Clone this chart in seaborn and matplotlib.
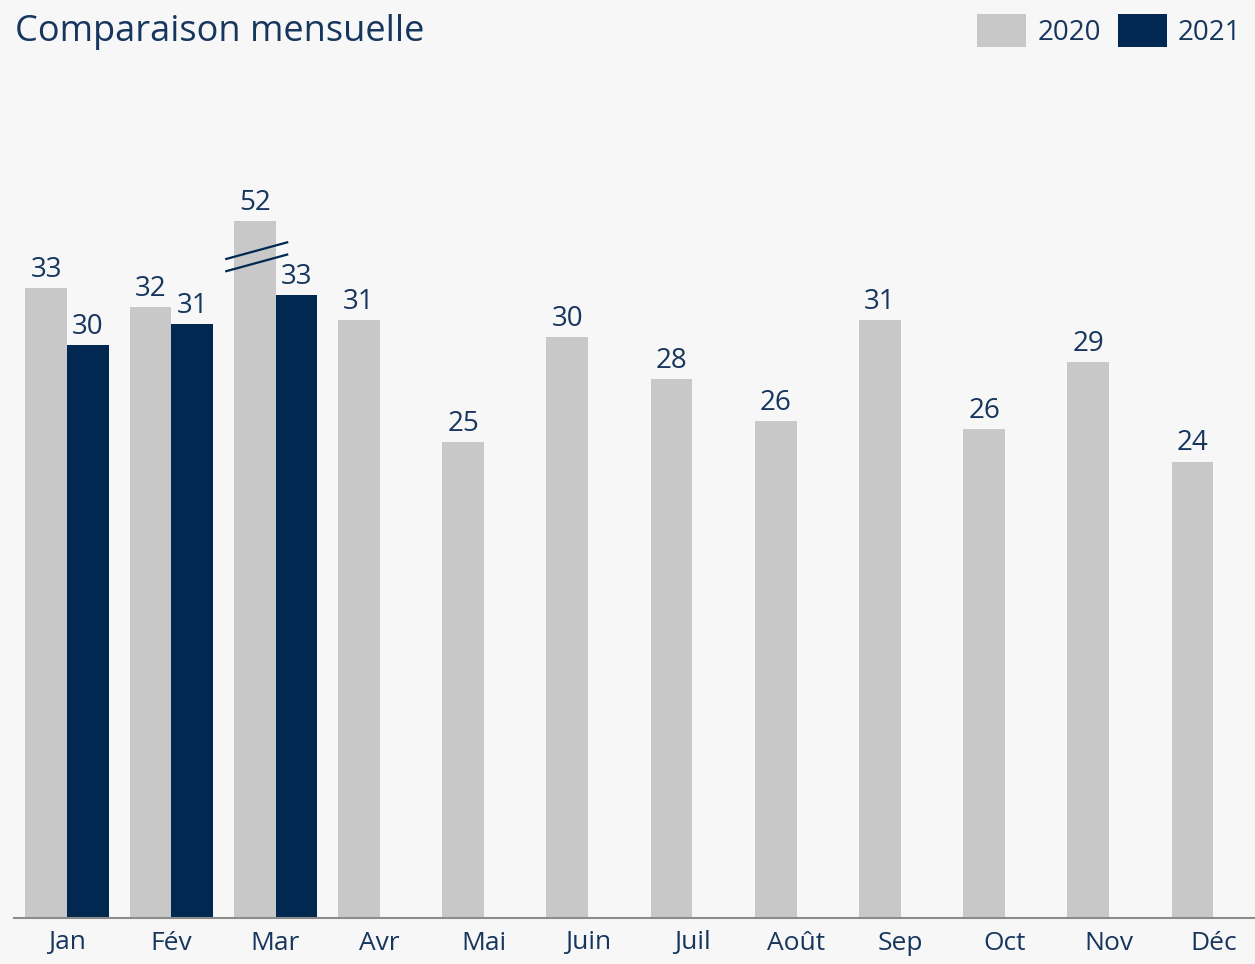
import numpy as np
import pandas as pd
import matplotlib
matplotlib.use("Agg")
import matplotlib.pyplot as plt
import seaborn as sns
from matplotlib.patches import Patch

months = ["Jan", "Fév", "Mar", "Avr", "Mai", "Juin", "Juil", "Août", "Sep", "Oct", "Nov", "Déc"]
values_2020 = [33.0, 32.0, 52.0, 31.3, 24.9, 30.4, 28.2, 26.0, 31.3, 25.6, 29.1, 23.9]
values_2021 = [30.0, 31.1, 32.6, np.nan, np.nan, np.nan, np.nan, np.nan, np.nan, np.nan, np.nan, np.nan]
years = ["2020", "2021"]

BREAK_CAP = 36.5  # display height of truncated (broken) bars
BG = "#f7f7f7"
NAVY = "#002850"
GREY = "#c8c8c8"
TEXT = "#17365d"

rows = []
for m, a, b in zip(months, values_2020, values_2021):
    rows.append({"month": m, "year": "2020", "value": a})
    rows.append({"month": m, "year": "2021", "value": b})
df = pd.DataFrame(rows).dropna()
df["shown"] = np.minimum(df["value"], BREAK_CAP)

sns.set_theme(style="white")
plt.rcParams["font.family"] = ["Open Sans", "DejaVu Sans"]

fig = plt.figure(figsize=(12.55, 9.64), dpi=100, facecolor=BG)
ax = fig.add_axes([14 / 1255, 1 - 918 / 964, 1 - 14 / 1255, (918 - 58.5) / 964])
ax.set_facecolor(BG)

sns.barplot(data=df, x="month", y="shown", hue="year", order=months, hue_order=years,
            palette={"2020": GREY, "2021": NAVY}, saturation=1, linewidth=0,
            width=0.8, dodge=True, ax=ax, legend=False)

ax.set_xlim(-0.51, 11.40)
ax.set_ylim(0, 45)
ax.set_xlabel("")
ax.set_ylabel("")
ax.set_yticks([])
for s in ["top", "right", "left"]:
    ax.spines[s].set_visible(False)
ax.spines["bottom"].set_color("#8c8c8c")
ax.spines["bottom"].set_linewidth(1.5)
ax.tick_params(axis="x", length=0, pad=9, labelsize=19, labelcolor=TEXT)

true_vals = {"2020": values_2020, "2021": values_2021}
for yr, cont in zip(years, ax.containers):
    labels = []
    for bar in cont:
        idx = int(round(bar.get_x() + bar.get_width() / 2))
        v = true_vals[yr][idx]
        labels.append("" if np.isnan(v) else f"{v:.0f}")
    ax.bar_label(cont, labels=labels, padding=3, fontsize=20, color=TEXT)
    # break marks on truncated bars
    for bar in cont:
        idx = int(round(bar.get_x() + bar.get_width() / 2))
        v = true_vals[yr][idx]
        if not np.isnan(v) and v > BREAK_CAP:
            x0 = bar.get_x() - 0.083
            x1 = bar.get_x() + bar.get_width() + 0.122
            for yc in (34.94, 34.30):
                ax.plot([x0, x1], [yc - 0.45, yc + 0.45], color=NAVY, lw=1.6,
                        solid_capstyle="butt", clip_on=False)

fig.text(15 / 1255, 1 - 32 / 964, "Comparaison mensuelle", fontsize=26, color=TEXT,
         va="center", ha="left")

handles = [Patch(facecolor=GREY, edgecolor="none"), Patch(facecolor=NAVY, edgecolor="none")]
fig.legend(handles, years, loc="upper right", bbox_to_anchor=(1.0, 1.0), ncol=2, frameon=False,
           fontsize=20, labelcolor=TEXT, handlelength=1.76, handleheight=1.45, handletextpad=0.4,
           columnspacing=0.6, borderaxespad=0.3, borderpad=0.2)

fig.savefig("out.png", dpi=100, facecolor=BG)
